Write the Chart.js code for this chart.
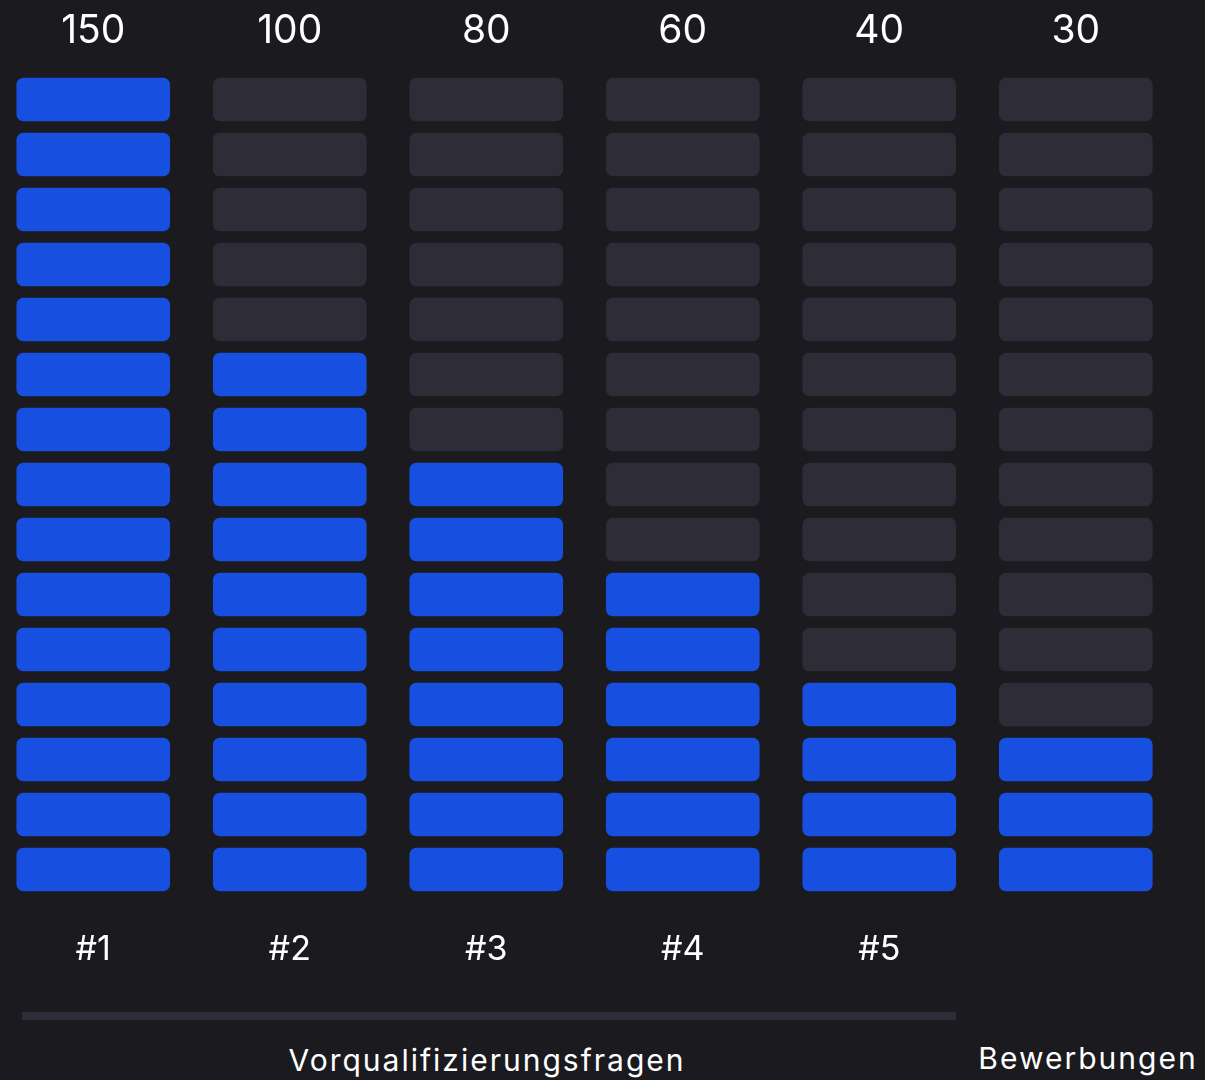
<!DOCTYPE html>
<html lang="de">
  <head>
    <meta charset="UTF-8" />
    <title>Bewerbungen je Vorqualifizierungsfrage</title>
    <script src="https://cdn.jsdelivr.net/npm/chart.js"></script>
    <style>
      html,
      body {
        margin: 0;
        padding: 0;
        background: #1b1a1f;
        overflow: hidden;
      }
      body {
        position: relative;
        width: 1205px;
        height: 1080px;
        font-family: Inter, "Noto Sans", sans-serif;
        color: #ffffff;
      }
      #chartWrap {
        position: absolute;
        left: -5px;
        top: 0;
        width: 1205px;
        height: 965px;
      }
      .divider {
        position: absolute;
        left: 22px;
        top: 1012px;
        width: 934px;
        height: 8px;
        background: #2e2d37;
      }
      .group-label {
        position: absolute;
        font-size: 30px;
        line-height: 30px;
        letter-spacing: 2px;
        white-space: nowrap;
        transform: translateX(-50%);
      }
    </style>
  </head>
  <body>
    <div id="chartWrap"><canvas id="funnelChart"></canvas></div>
    <div class="divider"></div>
    <div class="group-label" style="left: 487px; top: 1045px">Vorqualifizierungsfragen</div>
    <div class="group-label" style="left: 1088px; top: 1043px">Bewerbungen</div>

    <script>
      // data
      const categories = ["#1", "#2", "#3", "#4", "#5", ""];
      const values = [150, 100, 80, 60, 40, 30];
      const topLabels = ["150", "100", "80", "60", "40", "30"];
      const segmentSize = 10;
      const maxValue = 150;

      const BLUE = "#1750e0";
      const EMPTY = "#2e2d37";
      const HALF_GAP = 1.1; // in value units, ~6px

      // one floating-bar dataset per segment row
      const datasets = [];
      for (let s = 0; s < maxValue / segmentSize; s++) {
        const lo = s * segmentSize;
        const hi = lo + segmentSize;
        datasets.push({
          data: values.map(() => [lo + HALF_GAP, hi - HALF_GAP]),
          backgroundColor: values.map((v) => (hi <= v ? BLUE : EMPTY)),
          borderRadius: 7,
          borderSkipped: false,
          grouped: false,
          barThickness: 153,
        });
      }

      const axisCommon = {
        type: "category",
        offset: true,
        grid: { display: false, drawTicks: false },
        border: { display: false },
      };

      new Chart(document.getElementById("funnelChart"), {
        type: "bar",
        data: { labels: categories, datasets: datasets },
        options: {
          responsive: true,
          maintainAspectRatio: false,
          animation: false,
          layout: { padding: { top: 0, right: 26, left: 0, bottom: 0 } },
          plugins: {
            legend: { display: false },
            tooltip: { enabled: false },
          },
          scales: {
            x: {
              ...axisCommon,
              position: "bottom",
              afterFit: (scale) => {
                scale.height = 68;
              },
              ticks: {
                color: "#ffffff",
                padding: 36,
                font: { family: "Inter", size: 34, lineHeight: 1 },
              },
            },
            xTop: {
              ...axisCommon,
              position: "top",
              labels: topLabels,
              afterFit: (scale) => {
                scale.height = 72;
              },
              ticks: {
                color: "#ffffff",
                padding: 21,
                font: { family: "Inter", size: 39, lineHeight: 1 },
              },
            },
            y: {
              display: false,
              min: 0,
              max: maxValue,
            },
          },
        },
      });
    </script>
  </body>
</html>
